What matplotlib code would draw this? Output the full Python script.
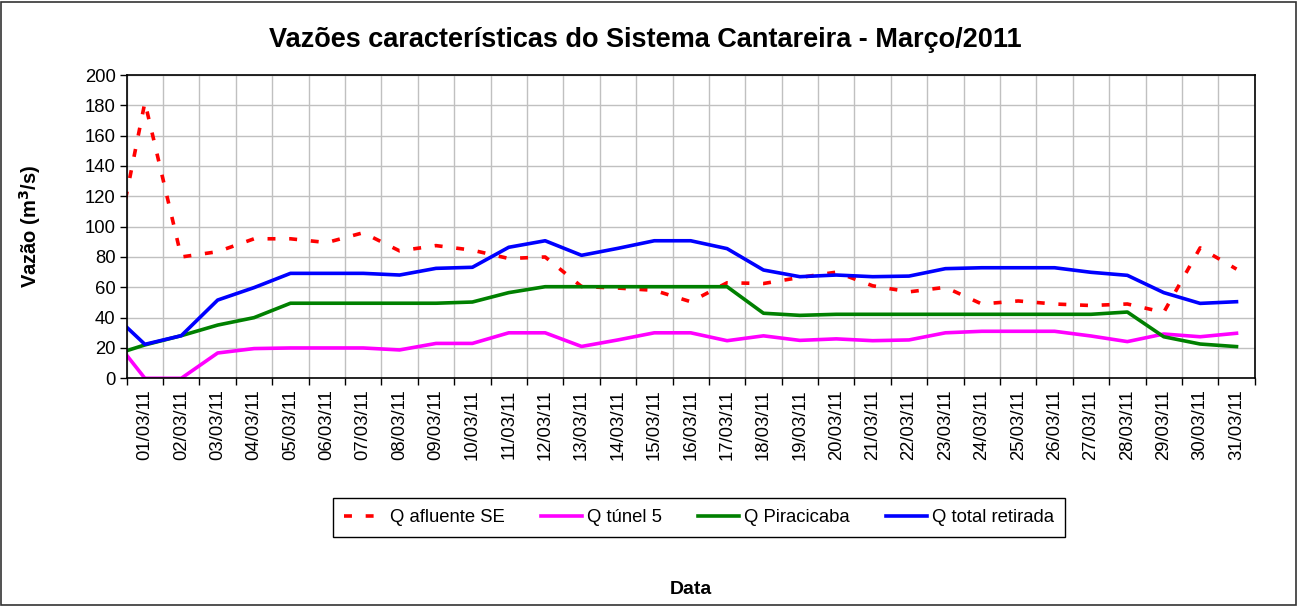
import matplotlib
matplotlib.use('Agg')
import matplotlib.pyplot as plt
from matplotlib.patches import Rectangle

plt.rcParams['font.family'] = ['Liberation Sans', 'DejaVu Sans']

# Category labels (March 2011); the series also carry the 28/02 value that
# Excel clipped at the left edge of the plot area.
dates = ['01/03/11', '02/03/11', '03/03/11', '04/03/11', '05/03/11', '06/03/11',
         '07/03/11', '08/03/11', '09/03/11', '10/03/11', '11/03/11', '12/03/11',
         '13/03/11', '14/03/11', '15/03/11', '16/03/11', '17/03/11', '18/03/11',
         '19/03/11', '20/03/11', '21/03/11', '22/03/11', '23/03/11', '24/03/11',
         '25/03/11', '26/03/11', '27/03/11', '28/03/11', '29/03/11', '30/03/11',
         '31/03/11']

# first value = 28/02/11
q_afluente = [62, 182, 80, 83.5, 92, 92, 89.5, 96, 84, 87.5, 84.5, 79, 80, 60.5,
              59.5, 58, 50.5, 63, 62.5, 66.5, 70, 61, 57, 60, 49, 51, 49, 48, 49,
              43.5, 86, 72]
q_tunel5 = [30.4, 0, 0, 16.7, 19.6, 20, 20, 20, 18.7, 23, 23, 30, 30, 21, 25.3,
            30, 30, 24.8, 28, 25, 26, 24.8, 25.3, 30, 31, 31, 31, 27.9, 24.2,
            29.2, 27.4, 29.7]
q_piracicaba = [14.4, 22, 28.1, 35.1, 40, 49.5, 49.5, 49.5, 49.5, 49.5, 50.3,
                56.5, 60.4, 60.4, 60.4, 60.4, 60.4, 60.4, 42.9, 41.5, 42.2, 42.2,
                42.2, 42.2, 42.2, 42.2, 42.2, 42.2, 43.7, 27.4, 22.6, 20.9]
q_total = [45, 22.4, 28.1, 51.6, 59.8, 69.2, 69.2, 69.2, 68.1, 72.5, 73.2, 86.4,
           90.7, 81.1, 85.7, 90.7, 90.7, 85.5, 71.4, 67, 68.1, 67, 67.4, 72.3,
           72.9, 72.9, 72.9, 69.9, 67.9, 56.5, 49.4, 50.5]

series_labels = ['Q afluente SE', 'Q túnel 5', 'Q Piracicaba', 'Q total retirada']

W, H = 1297, 606
fig = plt.figure(figsize=(W / 100, H / 100), dpi=100)
fig.patch.set_facecolor('white')

L, R, T, B = 126.7, 1254.7, 75.0, 378.3
ax = fig.add_axes([L / W, 1 - B / H, (R - L) / W, (B - T) / H])

x = list(range(-1, len(dates)))
lw = 2.6
h1, = ax.plot(x, q_afluente, color='#FF0000', lw=lw, dashes=(2.2, 3.8),
              dash_capstyle='butt', label=series_labels[0])
h2, = ax.plot(x, q_tunel5, color='#FF00FF', lw=lw, label=series_labels[1])
h3, = ax.plot(x, q_piracicaba, color='#008000', lw=lw, label=series_labels[2])
h4, = ax.plot(x, q_total, color='#0000FF', lw=lw, label=series_labels[3])

ax.set_xlim(-0.5, len(dates) - 0.5)
ax.set_ylim(0, 200)
ax.set_yticks(range(0, 201, 20))
ax.set_xticks(range(len(dates)))
ax.set_xticklabels(dates, rotation=90, fontsize=13.3)
ax.set_xticks([i + 0.5 for i in range(-1, len(dates))], minor=True)
ax.tick_params(axis='x', which='major', length=0, pad=8)
ax.tick_params(axis='x', which='minor', length=5, width=1, color='black')
ax.tick_params(axis='y', which='major', length=5, width=1, pad=3, labelsize=13.3)
ax.grid(axis='x', which='minor', color='#c0c0c0', lw=1)
ax.grid(axis='y', which='major', color='#c0c0c0', lw=1)
ax.set_axisbelow(True)
for s in ax.spines.values():
    s.set_color('black')
    s.set_linewidth(1.2)

fig.text(645 / W, 1 - 40 / H, 'Vazões características do Sistema Cantareira - Março/2011',
         ha='center', va='center', fontsize=19.5, fontweight='bold')
fig.text(30 / W, 1 - 226.5 / H, 'Vazão (m$^{\\mathbf{3}}$/s)', rotation=90,
         ha='center', va='center', fontsize=14.5, fontweight='bold')
fig.text(690.7 / W, 1 - 590 / H, 'Data', ha='center', va='center',
         fontsize=14, fontweight='bold')

leg = fig.legend(handles=[h1, h2, h3, h4], loc='center',
                 bbox_to_anchor=(699 / W, 1 - 517.5 / H), ncol=4, fontsize=13.3,
                 frameon=True, fancybox=False, edgecolor='black', framealpha=1,
                 handlelength=2.2, handletextpad=0.3, columnspacing=1.95,
                 borderpad=0.6)
leg.get_frame().set_linewidth(1.0)

fig.add_artist(Rectangle((0.5 / W, 1.0 / H), (W - 2) / W, (H - 2.5) / H,
                         transform=fig.transFigure, fill=False,
                         edgecolor='#333333', lw=1.2))

fig.savefig('out.png', dpi=100)
